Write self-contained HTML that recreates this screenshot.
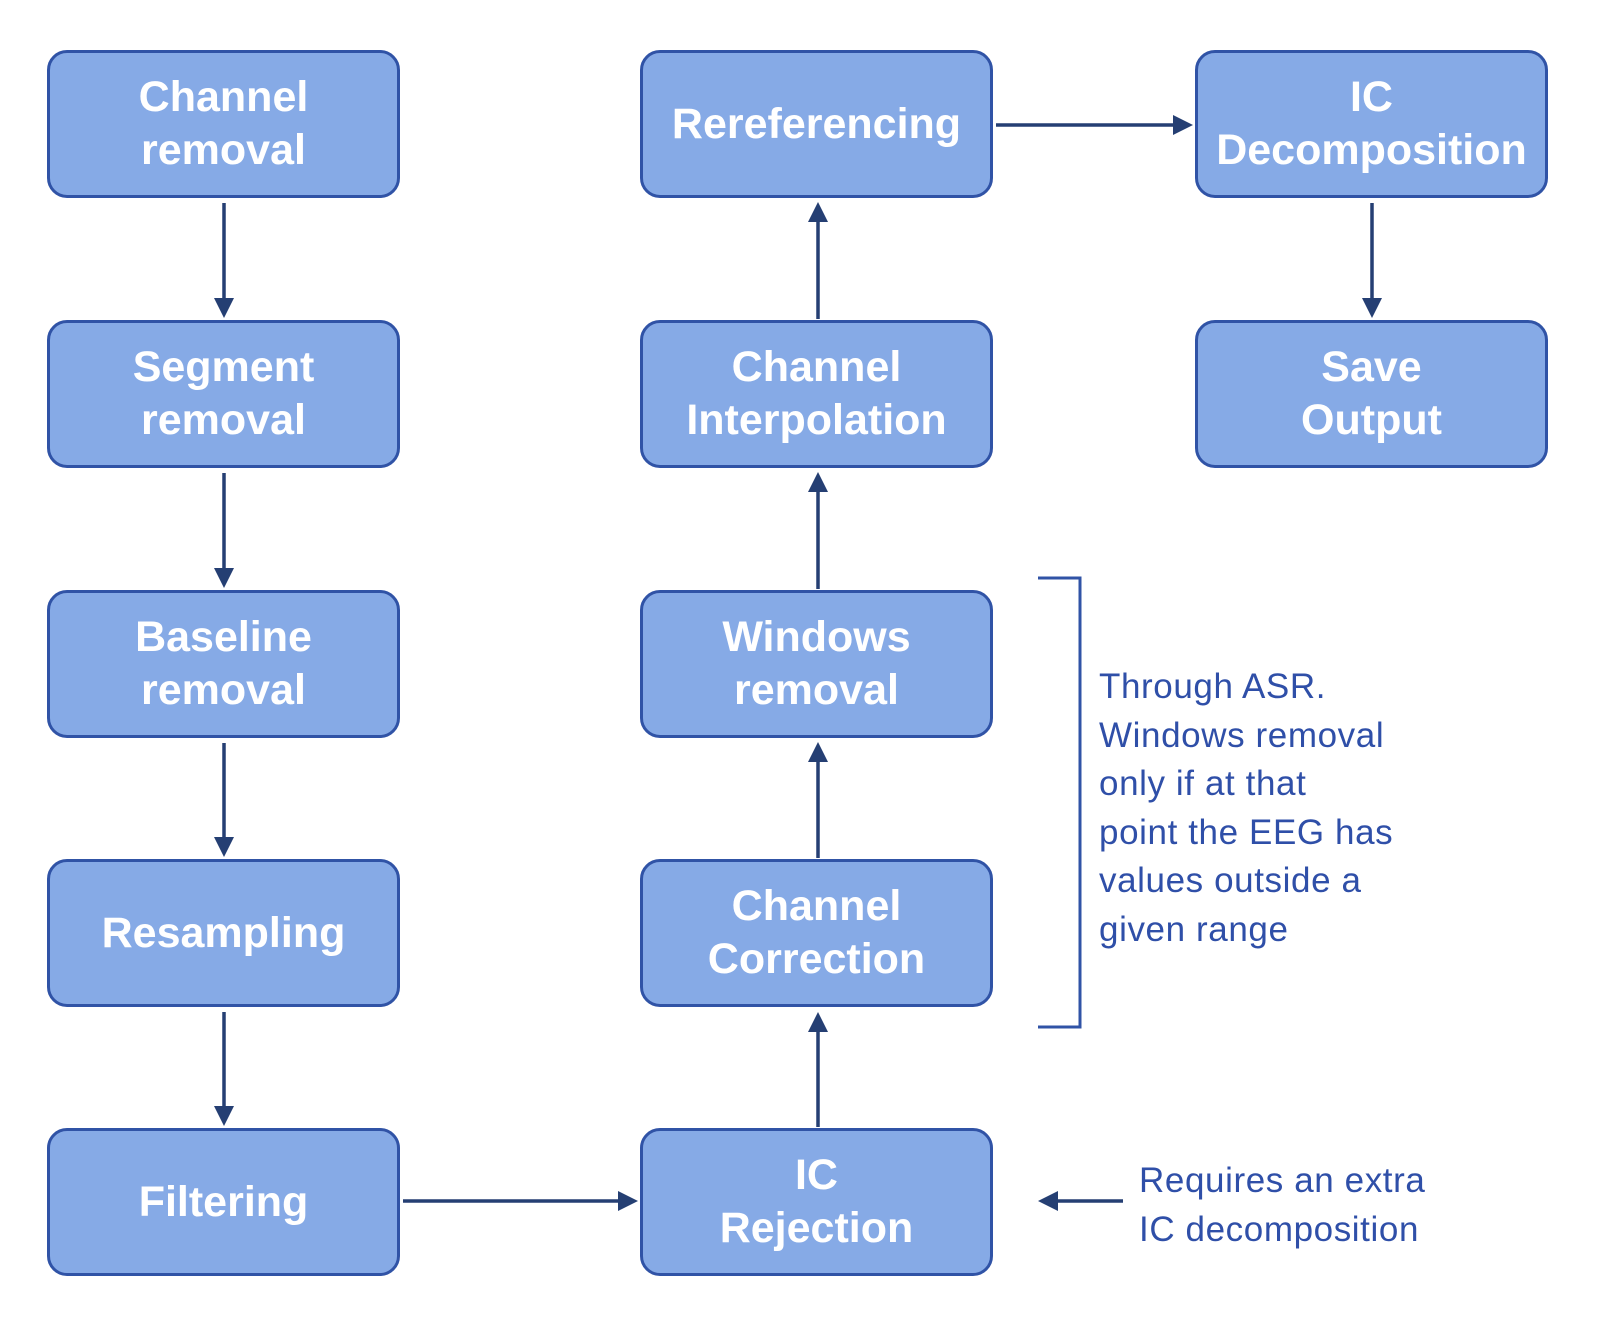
<!DOCTYPE html>
<html><head><style>
body{margin:0;width:1616px;height:1342px;background:#fff;position:relative;overflow:hidden;font-family:"Liberation Sans",sans-serif}
.b{position:absolute;width:347px;height:142px;background:#86aae6;border:3px solid #3053a6;border-radius:20px;box-sizing:content-box;display:flex;align-items:center;justify-content:center;text-align:center;color:#fff;font-weight:bold;font-size:43px;line-height:53px;white-space:nowrap}
.t{position:absolute;color:#2f4fa8;font-size:35px;line-height:48.5px;letter-spacing:0.6px;white-space:nowrap}
</style></head><body>
<div class="b" style="left:47px;top:50px">Channel<br>removal</div>
<div class="b" style="left:47px;top:320px">Segment<br>removal</div>
<div class="b" style="left:47px;top:590px">Baseline<br>removal</div>
<div class="b" style="left:47px;top:859px">Resampling</div>
<div class="b" style="left:47px;top:1128px">Filtering</div>
<div class="b" style="left:640px;top:50px">Rereferencing</div>
<div class="b" style="left:640px;top:320px">Channel<br>Interpolation</div>
<div class="b" style="left:640px;top:590px">Windows<br>removal</div>
<div class="b" style="left:640px;top:859px">Channel<br>Correction</div>
<div class="b" style="left:640px;top:1128px">IC<br>Rejection</div>
<div class="b" style="left:1195px;top:50px">IC<br>Decomposition</div>
<div class="b" style="left:1195px;top:320px">Save<br>Output</div>
<svg width="1616" height="1342" style="position:absolute;left:0;top:0">
<g stroke="#253f73" stroke-width="3.5" fill="none">
<line x1="224" y1="203" x2="224" y2="300"/><path d="M214,298h20l-10,20z" fill="#253f73" stroke="none"/>
<line x1="224" y1="473" x2="224" y2="570"/><path d="M214,568h20l-10,20z" fill="#253f73" stroke="none"/>
<line x1="224" y1="743" x2="224" y2="839"/><path d="M214,837h20l-10,20z" fill="#253f73" stroke="none"/>
<line x1="224" y1="1012" x2="224" y2="1108"/><path d="M214,1106h20l-10,20z" fill="#253f73" stroke="none"/>
<line x1="403" y1="1201" x2="620" y2="1201"/><path d="M618,1191v20l20,-10z" fill="#253f73" stroke="none"/>
<line x1="818" y1="1127" x2="818" y2="1030"/><path d="M808,1032h20l-10,-20z" fill="#253f73" stroke="none"/>
<line x1="818" y1="858" x2="818" y2="760"/><path d="M808,762h20l-10,-20z" fill="#253f73" stroke="none"/>
<line x1="818" y1="589" x2="818" y2="490"/><path d="M808,492h20l-10,-20z" fill="#253f73" stroke="none"/>
<line x1="818" y1="319" x2="818" y2="220"/><path d="M808,222h20l-10,-20z" fill="#253f73" stroke="none"/>
<line x1="996" y1="125" x2="1175" y2="125"/><path d="M1173,115v20l20,-10z" fill="#253f73" stroke="none"/>
<line x1="1372" y1="203" x2="1372" y2="300"/><path d="M1362,298h20l-10,20z" fill="#253f73" stroke="none"/>
<line x1="1123" y1="1201" x2="1056" y2="1201"/><path d="M1058,1191v20l-20,-10z" fill="#253f73" stroke="none"/>
</g>
<path d="M1038,578H1080V1027H1038" stroke="#3053a6" stroke-width="3" fill="none"/>
</svg>
<div class="t" style="left:1099px;top:663px">Through ASR.<br>Windows removal<br>only if at that<br>point the EEG has<br>values outside a<br>given range</div>
<div class="t" style="left:1139px;top:1157px">Requires an extra<br>IC decomposition</div>
</body></html>
